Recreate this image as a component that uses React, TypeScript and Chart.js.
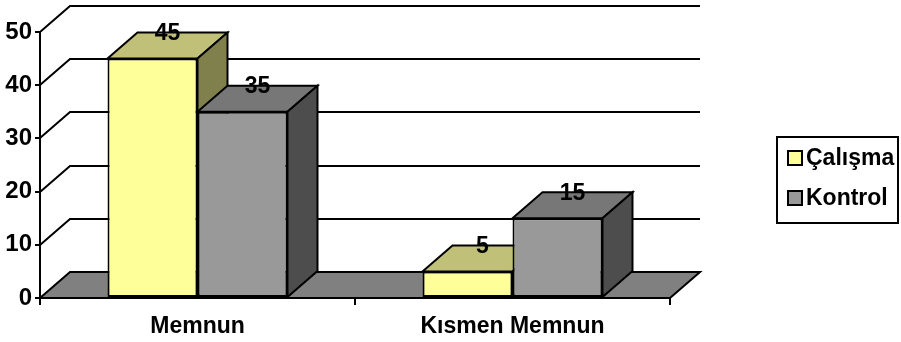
import React, { useEffect, useRef } from 'react';
import { Chart, registerables } from 'chart.js';

Chart.register(...registerables);

const categories = ['Memnun', 'Kısmen Memnun'];
const seriesNames = ['Çalışma', 'Kontrol'];
const calismaValues = [45, 5];
const kontrolValues = [35, 15];
const yTickValues = [0, 10, 20, 30, 40, 50];

const FONT = '"Liberation Sans", Arial, sans-serif';
const DX = 30;
const DY = -26;
const faceColors = [
  { front: '#FFFF99', top: '#C0C078', side: '#80804D' },
  { front: '#999999', top: '#777777', side: '#4D4D4D' },
];

function poly(ctx: CanvasRenderingContext2D, pts: number[][], fill: string) {
  ctx.beginPath();
  ctx.moveTo(pts[0][0], pts[0][1]);
  for (let i = 1; i < pts.length; i++) ctx.lineTo(pts[i][0], pts[i][1]);
  ctx.closePath();
  ctx.fillStyle = fill;
  ctx.fill();
  ctx.stroke();
}

const threeD = {
  id: 'threeD',
  beforeDraw(chart: any) {
    const { ctx, chartArea } = chart;
    const { left, right, bottom } = chartArea;
    const y = chart.scales.y;
    ctx.save();
    ctx.strokeStyle = '#000';
    ctx.lineWidth = 2;
    ctx.lineJoin = 'miter';
    for (const v of yTickValues) {
      if (v === 0) continue;
      const py = Math.round(y.getPixelForValue(v));
      ctx.beginPath();
      ctx.moveTo(left, py);
      ctx.lineTo(left + DX, py + DY);
      ctx.lineTo(right + DX, py + DY);
      ctx.stroke();
    }
    poly(ctx, [[left, bottom], [right, bottom], [right + DX, bottom + DY], [left + DX, bottom + DY]], '#808080');
    ctx.restore();
  },
  beforeDatasetsDraw(chart: any) {
    const { ctx } = chart;
    ctx.save();
    ctx.strokeStyle = '#000';
    ctx.lineWidth = 2;
    ctx.lineJoin = 'miter';
    const n = chart.data.labels.length;
    for (let c = 0; c < n; c++) {
      chart.data.datasets.forEach((_: any, di: number) => {
        const el = chart.getDatasetMeta(di).data[c];
        const { x, y, base, width } = el.getProps(['x', 'y', 'base', 'width'], true);
        const l = x - width / 2;
        const r = x + width / 2;
        const col = faceColors[di];
        poly(ctx, [[l, y], [r, y], [r + DX, y + DY], [l + DX, y + DY]], col.top);
        poly(ctx, [[r, y], [r + DX, y + DY], [r + DX, base + DY], [r, base]], col.side);
      });
    }
    ctx.restore();
  },
  afterDraw(chart: any) {
    const { ctx } = chart;
    ctx.save();
    ctx.fillStyle = '#000';
    ctx.font = `bold 23px ${FONT}`;
    ctx.textAlign = 'center';
    ctx.textBaseline = 'middle';
    chart.data.datasets.forEach((ds: any, di: number) => {
      chart.getDatasetMeta(di).data.forEach((el: any, i: number) => {
        const { x, y } = el.getProps(['x', 'y'], true);
        ctx.fillText(String(ds.data[i]), x + DX / 2, y + DY + 1);
      });
    });
    // legend
    ctx.strokeStyle = '#000';
    ctx.lineWidth = 2;
    ctx.strokeRect(777, 137, 121, 86);
    ctx.textAlign = 'left';
    const rows = [158, 198];
    chart.data.datasets.forEach((ds: any, di: number) => {
      const cy = rows[di];
      ctx.fillStyle = faceColors[di].front;
      ctx.fillRect(788, cy - 7, 14, 14);
      ctx.strokeRect(788, cy - 7, 14, 14);
      ctx.fillStyle = '#000';
      ctx.fillText(ds.label, 806, cy + 1);
    });
    ctx.restore();
  },
};

export default function App() {
  const ref = useRef<HTMLCanvasElement | null>(null);
  useEffect(() => {
    if (!ref.current) return;
    const catFont = { family: FONT, size: 23, weight: 'bold' as const };
    const yFont = { family: FONT, size: 24, weight: 'bold' as const };
    const chart = new Chart(ref.current, {
      type: 'bar',
      data: {
        labels: categories,
        datasets: [
          {
            label: seriesNames[0],
            data: calismaValues,
            backgroundColor: faceColors[0].front,
            borderColor: '#000',
            borderWidth: 2,
            borderSkipped: false,
          },
          {
            label: seriesNames[1],
            data: kontrolValues,
            backgroundColor: faceColors[1].front,
            borderColor: '#000',
            borderWidth: 2,
            borderSkipped: false,
          },
        ],
      },
      options: {
        responsive: false,
        animation: false,
        devicePixelRatio: 1,
        layout: { padding: { left: 0, top: 32, right: 231, bottom: 0 } },
        datasets: { bar: { categoryPercentage: 0.5714, barPercentage: 1 } },
        plugins: { legend: { display: false }, tooltip: { enabled: false } },
        scales: {
          x: {
            grid: { offset: true, drawOnChartArea: false, drawTicks: true, tickLength: 7, color: '#000', lineWidth: 2 },
            border: { display: true, color: '#000', width: 2 },
            ticks: { color: '#000', font: catFont, padding: 8 },
            afterFit: (s: any) => { s.height = 44; },
          },
          y: {
            min: 0,
            max: 50,
            grid: { drawOnChartArea: false, drawTicks: true, tickLength: 5, color: '#000', lineWidth: 2 },
            border: { display: true, color: '#000', width: 2 },
            ticks: { stepSize: 10, color: '#000', font: yFont, padding: 3 },
            afterFit: (s: any) => { s.width = 40; },
          },
        },
      },
      plugins: [threeD],
    });
    return () => chart.destroy();
  }, []);
  return (
    <div style={{ position: 'absolute', left: 0, top: 0, width: 901, height: 342, background: '#fff' }}>
      <canvas ref={ref} width={901} height={342} style={{ display: 'block' }} />
    </div>
  );
}
